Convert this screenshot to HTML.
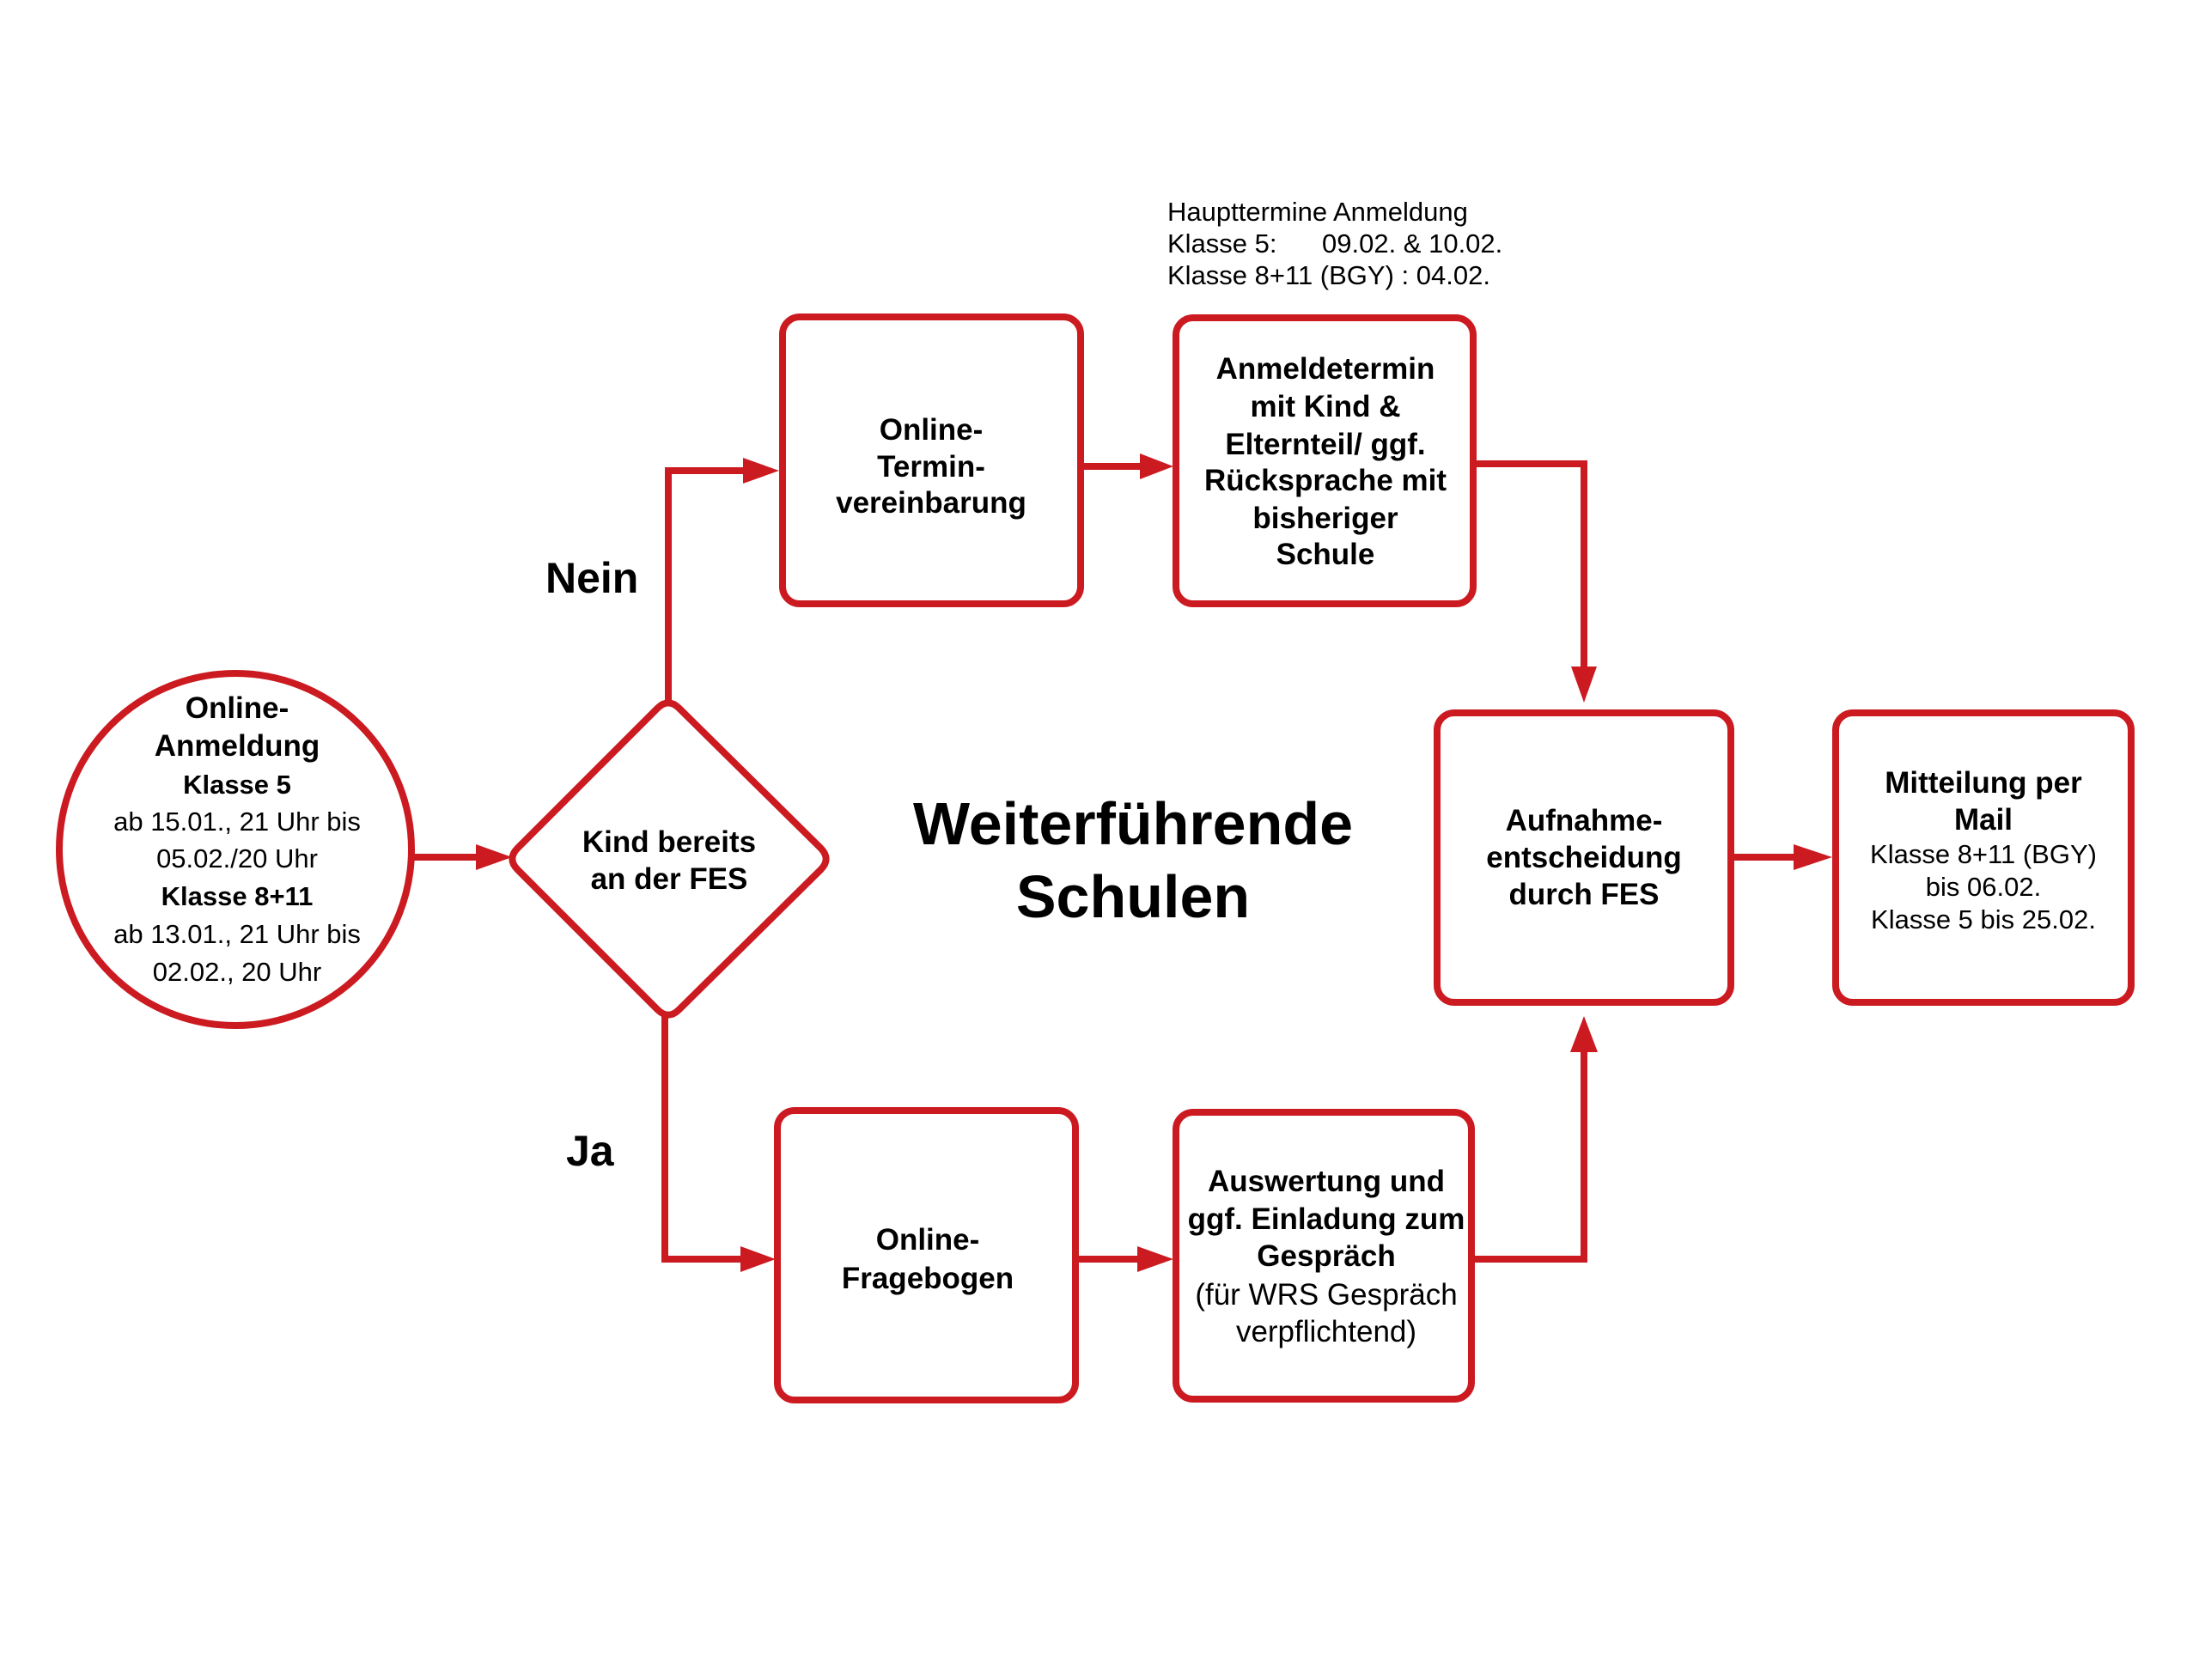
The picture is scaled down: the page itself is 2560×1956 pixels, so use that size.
<!DOCTYPE html>
<html>
<head>
<meta charset="utf-8">
<style>
  html, body { margin:0; padding:0; background:#ffffff; }
  body { width:2560px; height:1956px; overflow:hidden; }
  svg { display:block; }
  text { font-family: "Liberation Sans", Helvetica, Arial, sans-serif; fill:#000; }
  .b { font-weight:bold; font-size:35px; }
  .n { font-weight:normal; font-size:31px; }
</style>
</head>
<body>
<svg width="2560" height="1956" viewBox="0 0 2560 1956" xmlns="http://www.w3.org/2000/svg">
  <rect x="0" y="0" width="2560" height="1956" fill="#ffffff"/>

  <g fill="none" stroke="#cc1a21" stroke-width="8">
    <!-- circle -->
    <circle cx="274" cy="989" r="205"/>
    <!-- diamond -->
    <path d="M765.3,824.7 Q778,812 790.7,824.7 L955.3,987.3 Q968,1000 955.3,1012.7 L790.7,1175.3 Q778,1188 765.3,1175.3 L602.7,1012.7 Q590,1000 602.7,987.3 Z"/>
    <!-- boxes -->
    <rect x="911" y="369" width="347" height="334" rx="20" ry="20"/>
    <rect x="1369" y="370" width="346" height="333" rx="20" ry="20"/>
    <rect x="1673" y="830" width="342" height="337" rx="20" ry="20"/>
    <rect x="2137" y="830" width="344" height="337" rx="20" ry="20"/>
    <rect x="905" y="1293" width="347" height="337" rx="20" ry="20"/>
    <rect x="1369" y="1295" width="344" height="334" rx="20" ry="20"/>
  </g>

  <!-- connectors -->
  <g fill="none" stroke="#cc1a21" stroke-width="8" stroke-linejoin="miter" stroke-linecap="butt">
    <line x1="479" y1="998" x2="558" y2="998"/>
    <polyline points="778,818 778,548 868,548"/>
    <line x1="1262" y1="543" x2="1330" y2="543"/>
    <polyline points="1719,540 1844,540 1844,780"/>
    <line x1="2019" y1="998" x2="2092" y2="998"/>
    <polyline points="774,1182 774,1466 866,1466"/>
    <line x1="1256" y1="1466" x2="1328" y2="1466"/>
    <polyline points="1717,1466 1844,1466 1844,1220"/>
  </g>
  <g fill="#cc1a21" stroke="none">
    <polygon points="554,983 596,998 554,1013"/>
    <polygon points="865,533 907,548 865,563"/>
    <polygon points="1327,528 1366,543 1327,558"/>
    <polygon points="1829,776 1859,776 1844,818"/>
    <polygon points="2088,983 2133,998 2088,1013"/>
    <polygon points="862,1451 903,1466 862,1481"/>
    <polygon points="1324,1451 1366,1466 1324,1481"/>
    <polygon points="1828,1225 1860,1225 1844,1183"/>
  </g>

  <!-- top note -->
  <text class="n" x="1359" y="257">Haupttermine Anmeldung</text>
  <text class="n" x="1359" y="294">Klasse 5:</text>
  <text class="n" x="1539" y="294">09.02. &amp; 10.02.</text>
  <text class="n" x="1359" y="331">Klasse 8+11 (BGY) : 04.02.</text>

  <!-- circle text -->
  <g text-anchor="middle">
    <text class="b" x="276" y="836">Online-</text>
    <text class="b" x="276" y="880">Anmeldung</text>
    <text class="b" x="276" y="924" style="font-size:31px">Klasse 5</text>
    <text class="n" x="276" y="967">ab 15.01., 21 Uhr bis</text>
    <text class="n" x="276" y="1010">05.02./20 Uhr</text>
    <text class="b" x="276" y="1054" style="font-size:31px">Klasse 8+11</text>
    <text class="n" x="276" y="1098">ab 13.01., 21 Uhr bis</text>
    <text class="n" x="276" y="1142">02.02., 20 Uhr</text>

    <!-- diamond -->
    <text class="b" x="779" y="992">Kind bereits</text>
    <text class="b" x="779" y="1035">an der FES</text>

    <!-- box 1 -->
    <text class="b" x="1084" y="512">Online-</text>
    <text class="b" x="1084" y="555">Termin-</text>
    <text class="b" x="1084" y="597">vereinbarung</text>

    <!-- box 2 -->
    <text class="b" x="1543" y="441">Anmeldetermin</text>
    <text class="b" x="1543" y="485">mit Kind &amp;</text>
    <text class="b" x="1543" y="529">Elternteil/ ggf.</text>
    <text class="b" x="1543" y="571">Rücksprache mit</text>
    <text class="b" x="1543" y="615">bisheriger</text>
    <text class="b" x="1543" y="657">Schule</text>

    <!-- box 3 -->
    <text class="b" x="1844" y="967">Aufnahme-</text>
    <text class="b" x="1844" y="1010">entscheidung</text>
    <text class="b" x="1844" y="1053">durch FES</text>

    <!-- box 4 -->
    <text class="b" x="2309" y="923">Mitteilung per</text>
    <text class="b" x="2309" y="966">Mail</text>
    <text class="n" x="2309" y="1005">Klasse 8+11 (BGY)</text>
    <text class="n" x="2309" y="1043">bis 06.02.</text>
    <text class="n" x="2309" y="1081">Klasse 5 bis 25.02.</text>

    <!-- box 5 -->
    <text class="b" x="1080" y="1455">Online-</text>
    <text class="b" x="1080" y="1500">Fragebogen</text>

    <!-- box 6 -->
    <text class="b" x="1544" y="1387">Auswertung und</text>
    <text class="b" x="1544" y="1431">ggf. Einladung zum</text>
    <text class="b" x="1544" y="1474">Gespräch</text>
    <text class="n" x="1544" y="1519" style="font-size:35px">(für WRS Gespräch</text>
    <text class="n" x="1544" y="1562" style="font-size:35px">verpflichtend)</text>

    <!-- title -->
    <text x="1319" y="983" style="font-weight:bold;font-size:70px">Weiterführende</text>
    <text x="1319" y="1068" style="font-weight:bold;font-size:70px">Schulen</text>
  </g>

  <!-- labels -->
  <text x="635" y="690" style="font-weight:bold;font-size:50px">Nein</text>
  <text x="659" y="1357" style="font-weight:bold;font-size:50px">Ja</text>
</svg>
</body>
</html>
